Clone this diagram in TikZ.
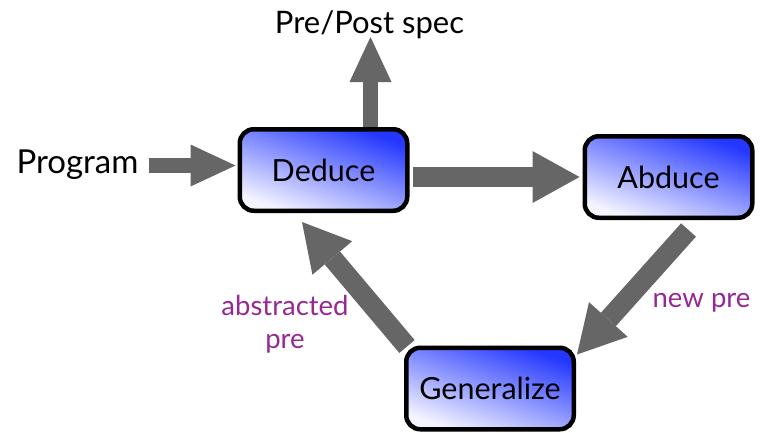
\documentclass[tikz,border=0pt]{standalone}
\usepackage{fontspec}
\setmainfont{Lato}
\usetikzlibrary{arrows.meta,calc,backgrounds}
\definecolor{arrgray}{RGB}{102,102,102}
\definecolor{labpurple}{RGB}{150,40,150}
\definecolor{boxtop}{RGB}{35,55,255}
\definecolor{boxmid}{RGB}{145,155,255}
\definecolor{boxbot}{RGB}{244,244,255}
\tikzset{
  box/.style={draw=black, line width=4.5pt, rounded corners=14pt,
    minimum width=167.5pt, minimum height=81.5pt, inner sep=0pt,
    top color=boxtop, middle color=boxmid, bottom color=boxbot, shading angle=-20,
    font=\fontsize{30.5}{36}\selectfont},
  plain/.style={inner sep=0pt, font=\fontsize{31}{36}\selectfont},
  lab/.style={inner sep=0pt, text=labpurple, font=\fontsize{27.5}{33}\selectfont},
  arrA/.style={draw=arrgray, line width=15pt,
    -{Triangle[width=42pt,length=45pt,line width=0pt]}},
  arrB/.style={draw=arrgray, line width=20pt,
    -{Triangle[width=52pt,length=47pt,line width=0pt]}},
}
\begin{document}
\begin{tikzpicture}[x=1pt,y=-1pt]
\useasboundingbox (0,0) rectangle (773,432);
\node[box] (ded) at (323.5,170) {Deduce};
\node[box] (abd) at (668.5,177) {Abduce};
\node[box] (gen) at (490,388.5) {Generalize};
\node[plain, anchor=base, font=\fontsize{33}{38}\selectfont] (prog) at (77.5,173) {Program};
\node[plain, anchor=base] (pp) at (369.5,33) {Pre/Post spec};
\node[lab, anchor=base, align=center] (abs) at (285,348) {abstracted\\pre};
\node[lab, anchor=base] (np) at (701.5,307) {new pre};
\begin{pgfonlayer}{background}
\draw[arrA] ($(prog.base east)+(10,-7.5)$) -- ($(ded.west)+(-2,-4.5)$);
\draw[arrA] ($(ded.north)+(47,0)$) -- ($(pp.base)+(1,4)$);
\draw[arrB] ($(ded.east)+(3,7)$) -- ($(abd.west)+(-3,0)$);
\draw[arrB] ($(abd.south)+(20,10)$) -- ($(gen.north east)+(1,9)$);
\draw[arrB] ($(gen.north west)+(3,1)$) -- ($(ded.south)+(-21.5,9)$);
\end{pgfonlayer}
\end{tikzpicture}
\end{document}
